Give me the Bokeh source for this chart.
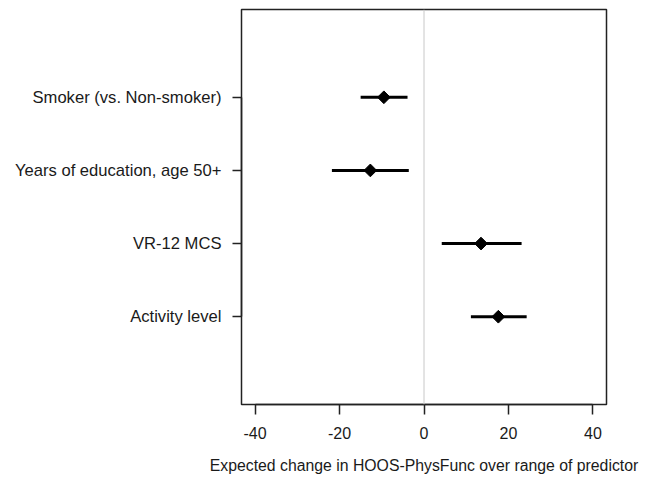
import math
from bokeh.plotting import figure
from bokeh.models import FixedTicker, Range1d, Span
from bokeh.embed import file_html
from bokeh.resources import INLINE

# Data
predictors = ["Smoker (vs. Non-smoker)", "Years of education, age 50+", "VR-12 MCS", "Activity level"]
positions = [4, 3, 2, 1]
estimate = [-9.5, -12.7, 13.5, 17.6]
lower = [-15.0, -21.8, 4.2, 11.1]
upper = [-3.9, -3.6, 23.1, 24.3]
x_ticks = [-40, -20, 0, 20, 40]
x_tick_labels = ["-40", "-20", "0", "20", "40"]

FONT = "Liberation Sans"
FS = "16px"
TXT = "#1a1a1a"

p = figure(width=664, height=482, output_backend="svg", toolbar_location=None,
           x_range=Range1d(-43.2, 43.2), y_range=Range1d(-0.2, 5.2),
           min_border_left=241, min_border_right=58, min_border_top=9, min_border_bottom=78)
p.grid.visible = False
p.background_fill_color = "white"
p.border_fill_color = "white"
p.outline_line_color = "#222222"
p.outline_line_width = 1.5

p.add_layout(Span(location=0, dimension="height", line_color="#c8c8c8", line_width=1))

p.segment(x0=lower, y0=positions, x1=upper, y1=positions, line_color="black", line_width=3)
p.scatter(x=estimate, y=positions, marker="square", angle=math.pi / 4, size=9,
          fill_color="black", line_color="black", line_width=1)

xa = p.xaxis[0]
xa.ticker = FixedTicker(ticks=x_ticks)
xa.major_label_overrides = {t: lab for t, lab in zip(x_ticks, x_tick_labels)}
xa.bounds = (-40, 40)
xa.axis_line_color = "#222222"
xa.axis_line_width = 1.5
xa.major_tick_out = 10
xa.major_tick_in = 0
xa.major_tick_line_width = 1.5
xa.major_tick_line_color = "#222222"
xa.minor_tick_line_color = None
xa.major_label_standoff = 12
xa.major_label_text_font = FONT
xa.major_label_text_font_size = FS
xa.major_label_text_color = TXT
xa.axis_label = "Expected change in HOOS-PhysFunc over range of predictor"
xa.axis_label_text_font = FONT
xa.axis_label_text_font_size = "15.8px"
xa.axis_label_text_font_style = "normal"
xa.axis_label_text_color = TXT
xa.axis_label_standoff = 15

ya = p.yaxis[0]
ya.ticker = FixedTicker(ticks=positions)
ya.major_label_overrides = {pos: lab for pos, lab in zip(positions, predictors)}
ya.bounds = (1, 4)
ya.axis_line_color = "#222222"
ya.axis_line_width = 1.5
ya.major_tick_out = 9
ya.major_tick_in = 0
ya.major_tick_line_width = 1.5
ya.major_tick_line_color = "#222222"
ya.minor_tick_line_color = None
ya.major_label_standoff = 11
ya.major_label_text_font = FONT
ya.major_label_text_font_size = "16.6px"
ya.major_label_text_color = TXT

open("out.html", "w").write(file_html(p, INLINE))
